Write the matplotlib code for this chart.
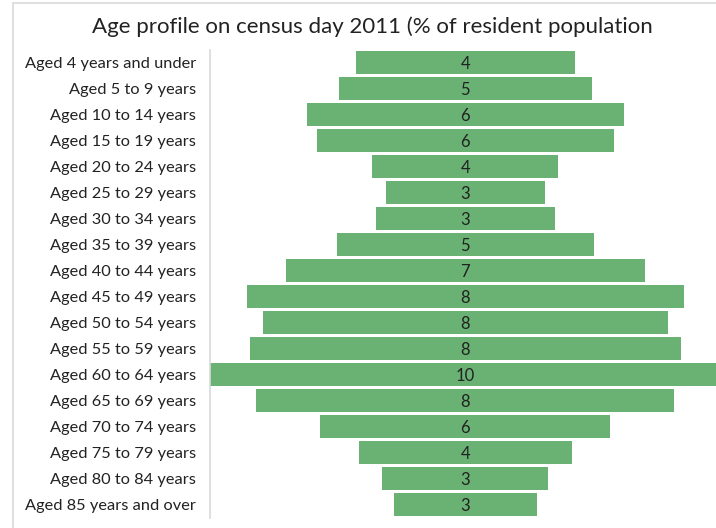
import matplotlib
matplotlib.use("Agg")
import matplotlib.pyplot as plt
from matplotlib.patches import Rectangle

categories = [
    "Aged 4 years and under", "Aged 5 to 9 years", "Aged 10 to 14 years",
    "Aged 15 to 19 years", "Aged 20 to 24 years", "Aged 25 to 29 years",
    "Aged 30 to 34 years", "Aged 35 to 39 years", "Aged 40 to 44 years",
    "Aged 45 to 49 years", "Aged 50 to 54 years", "Aged 55 to 59 years",
    "Aged 60 to 64 years", "Aged 65 to 69 years", "Aged 70 to 74 years",
    "Aged 75 to 79 years", "Aged 80 to 84 years", "Aged 85 years and over",
]
values = [4.2, 4.86, 6.08, 5.7, 3.57, 3.05, 3.44, 4.93, 6.89,
          8.39, 7.77, 8.27, 9.8, 8.02, 5.57, 4.09, 3.19, 2.74]
title = "Age profile on census day 2011 (% of resident population"

plt.rcParams['font.family'] = ['Lato', 'DejaVu Sans']

fig = plt.figure(figsize=(7.16, 5.28), dpi=100)
# light frame
fig.patches.append(Rectangle((13/716, -0.1), 1.2, 1 - 3/528 + 0.1, transform=fig.transFigure,
                             fill=False, edgecolor='#d9d9d9', linewidth=1.2))

ax = fig.add_axes([210/716, 1 - 517.5/528, 506/716, (517.5 - 49.5)/528])
y = list(range(len(categories)))
lefts = [-v / 2 for v in values]
ax.barh(y, values, left=lefts, height=0.88, color='#69b273', edgecolor='none')
for yi, v in zip(y, values):
    ax.text(0, yi, f"{round(v):d}", ha='center', va='center_baseline', fontsize=12, color='#222222')

ax.set_xlim(-4.9, 4.81)
ax.set_ylim(len(categories) - 0.5, -0.5)
ax.set_yticks(y)
ax.set_yticklabels(categories, fontsize=11.8, color='#222222')
ax.tick_params(axis='y', length=0, pad=10)
ax.set_xticks([])
for s in ['top', 'right', 'bottom']:
    ax.spines[s].set_visible(False)
ax.spines['left'].set_color('#d9d9d9')
ax.spines['left'].set_linewidth(1.2)

fig.text(372.5/716, 1 - 27/528, title, ha='center', va='center', fontsize=16, color='#222222')

fig.savefig("out.png", dpi=100)
